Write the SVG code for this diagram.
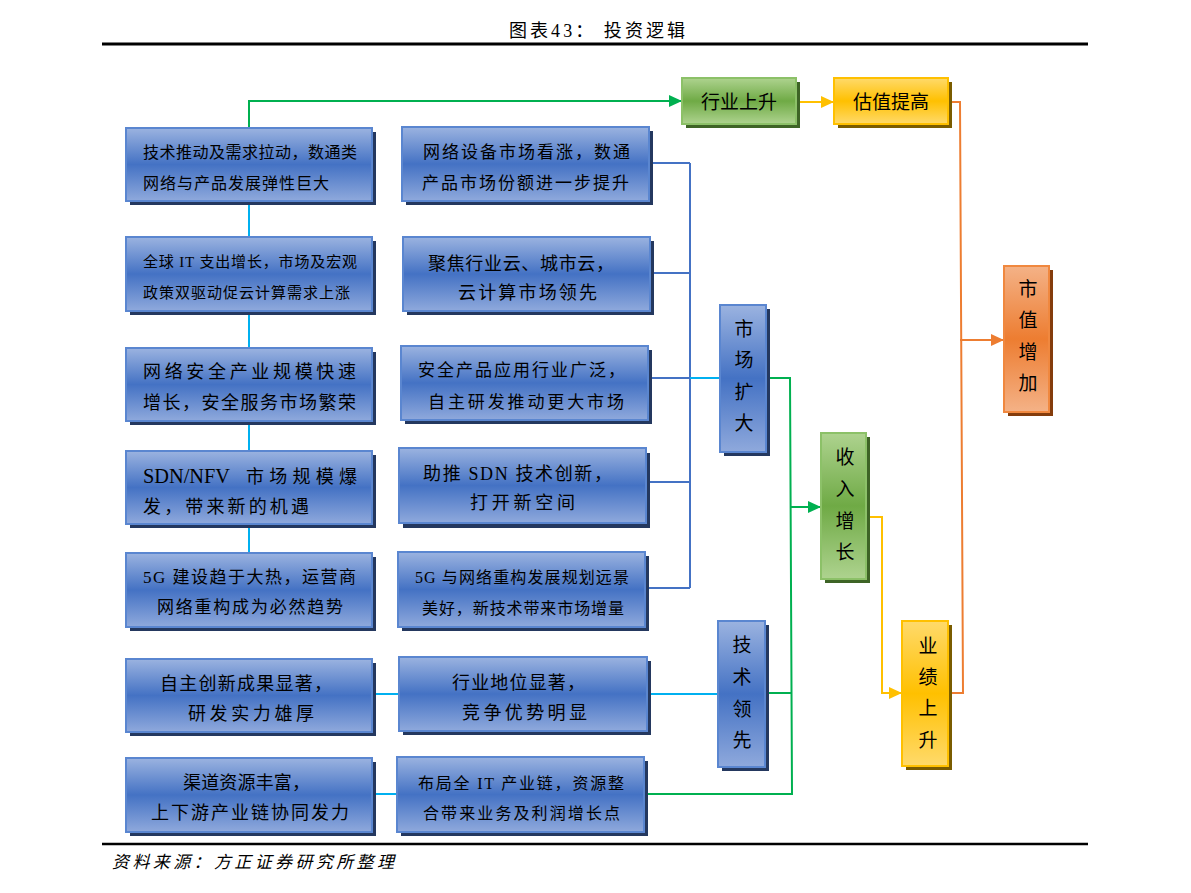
<svg xmlns="http://www.w3.org/2000/svg" width="1191" height="893" viewBox="0 0 1191 893">
<defs>
<linearGradient id="gB" x1="0" y1="0" x2="0" y2="1"><stop offset="0" stop-color="#9BB3E0"/><stop offset="0.5" stop-color="#4472C4"/><stop offset="1" stop-color="#8FA9DC"/></linearGradient>
<linearGradient id="gG" x1="0" y1="0" x2="0" y2="1"><stop offset="0" stop-color="#AED38F"/><stop offset="0.5" stop-color="#6FAA45"/><stop offset="1" stop-color="#AED38F"/></linearGradient>
<linearGradient id="gY" x1="0" y1="0" x2="0" y2="1"><stop offset="0" stop-color="#FFDA6B"/><stop offset="0.5" stop-color="#FFC000"/><stop offset="1" stop-color="#FFDA6B"/></linearGradient>
<linearGradient id="gO" x1="0" y1="0" x2="0" y2="1"><stop offset="0" stop-color="#F4B287"/><stop offset="0.5" stop-color="#ED7D31"/><stop offset="1" stop-color="#F4B287"/></linearGradient>
<marker id="aG" markerUnits="userSpaceOnUse" markerWidth="14" markerHeight="14" refX="13" refY="7" orient="auto"><path d="M0,1 L13,7 L0,13 Z" fill="#00B050"/></marker>
<marker id="aY" markerUnits="userSpaceOnUse" markerWidth="14" markerHeight="14" refX="13" refY="7" orient="auto"><path d="M0,1 L13,7 L0,13 Z" fill="#FFC000"/></marker>
<marker id="aO" markerUnits="userSpaceOnUse" markerWidth="14" markerHeight="14" refX="13" refY="7" orient="auto"><path d="M0,1 L13,7 L0,13 Z" fill="#ED7D31"/></marker>
</defs>
<style>
.t{font-family:"Liberation Serif","Noto Sans CJK SC",serif;font-size:16px;fill:#000}
.v{font-family:"Liberation Serif","Noto Sans CJK SC",serif;font-size:19px;fill:#000;text-anchor:middle}
.bx{fill:url(#gB);stroke:#5A86D0;stroke-width:2}
.sb{fill:#24385F}
.gx{fill:url(#gG);stroke:#8CC168;stroke-width:2}
.sg{fill:#3E6426}
.yx{fill:url(#gY);stroke:#FFC000;stroke-width:2}
.sy{fill:#7A5C00}
.ox{fill:url(#gO);stroke:#F0883F;stroke-width:2}
.so{fill:#843C0C}
.c{fill:none;stroke-width:2}
.cy{stroke:#00B0F0}.bl{stroke:#4472C4}.gr{stroke:#00B050}.ye{stroke:#FFC000}.or{stroke:#ED7D31}
</style>
<rect width="1191" height="893" fill="#fff"/>
<g id="header">
<text x="509" y="37" style="font-family:'Liberation Serif','Noto Sans CJK SC',serif;font-size:18px" textLength="176" lengthAdjust="spacing">图表43：  投资逻辑</text>
<line x1="102" y1="44" x2="1088" y2="44" stroke="#000" stroke-width="3"/>
</g>
<g id="connectors">
<path class="c gr" d="M249,128 V101 H682" marker-end="url(#aG)"/>
<path class="c cy" d="M249,201 V237 M249,311 V348 M249,421 V450 M249,524 V552"/>
<path class="c bl" d="M649,163 H690 M650,273 H690 M648,378 H690 M646,482 H690 M645,588 H690 M690,163 V588"/>
<path class="c cy" d="M690,378 H720"/>
<path class="c cy" d="M372,694 H399 M647,694 H718 M372,794 H397"/>
<path class="c gr" d="M766,378 H790 L792,794 H644 M765,693 H792"/>
<path class="c gr" d="M791,507 H821" marker-end="url(#aG)"/>
<path class="c ye" d="M796,102 H834" marker-end="url(#aY)"/>
<path class="c ye" d="M866,517 H882 V693 H902" marker-end="url(#aY)"/>
<path class="c or" d="M948,102 H960 L963,693 H948"/>
<path class="c or" d="M960,340 H1004" marker-end="url(#aO)"/>
</g>
<g id="L1"><rect class="sb" x="130" y="132" width="246" height="73"/><rect class="bx" x="126" y="128" width="246" height="73"/>
<text class="t" x="143" y="158" textLength="214" lengthAdjust="spacing">技术推动及需求拉动，数通类</text>
<text class="t" x="143" y="189" textLength="186" lengthAdjust="spacing">网络与产品发展弹性巨大</text></g>
<g id="L2"><rect class="sb" x="130" y="241" width="246" height="74"/><rect class="bx" x="126" y="237" width="246" height="74"/>
<text class="t" x="143" y="267" style="font-size:15px" textLength="214" lengthAdjust="spacing">全球 IT 支出增长，市场及宏观</text>
<text class="t" x="143" y="298" style="font-size:15px" textLength="207" lengthAdjust="spacing">政策双驱动促云计算需求上涨</text></g>
<g id="L3"><rect class="sb" x="130" y="352" width="246" height="73"/><rect class="bx" x="126" y="348" width="246" height="73"/>
<text class="t" x="143" y="378" style="font-size:18px" textLength="213" lengthAdjust="spacing">网络安全产业规模快速</text>
<text class="t" x="143" y="409" style="font-size:18px" textLength="213" lengthAdjust="spacing">增长，安全服务市场繁荣</text></g>
<g id="L4"><rect class="sb" x="130" y="455" width="246" height="73"/><rect class="bx" x="126" y="451" width="246" height="73"/>
<text class="t" x="143" y="483" style="font-size:20px" textLength="87" lengthAdjust="spacingAndGlyphs">SDN/NFV</text>
<text class="t" x="246" y="483" style="font-size:18px" textLength="111" lengthAdjust="spacing">市场规模爆</text>
<text class="t" x="143" y="513" style="font-size:18px" textLength="166" lengthAdjust="spacing">发，带来新的机遇</text></g>
<g id="L5"><rect class="sb" x="130" y="557" width="246" height="74"/><rect class="bx" x="126" y="553" width="246" height="74"/>
<text class="t" x="143" y="583" style="font-size:17px" textLength="213" lengthAdjust="spacing">5G 建设趋于大热，运营商</text>
<text class="t" x="157" y="613" style="font-size:17px" textLength="186" lengthAdjust="spacing">网络重构成为必然趋势</text></g>
<g id="L6"><rect class="sb" x="130" y="663" width="246" height="73"/><rect class="bx" x="126" y="659" width="246" height="73"/>
<text class="t" x="160" y="690" style="font-size:18px" textLength="172" lengthAdjust="spacing">自主创新成果显著，</text>
<text class="t" x="188" y="720" style="font-size:18px" textLength="126" lengthAdjust="spacing">研发实力雄厚</text></g>
<g id="L7"><rect class="sb" x="130" y="762" width="246" height="74"/><rect class="bx" x="126" y="758" width="246" height="74"/>
<text class="t" x="183" y="789" style="font-size:18px" textLength="127" lengthAdjust="spacing">渠道资源丰富，</text>
<text class="t" x="151" y="819" style="font-size:18px" textLength="198" lengthAdjust="spacing">上下游产业链协同发力</text></g>
<g id="M1"><rect class="sb" x="406" y="131" width="247" height="74"/><rect class="bx" x="402" y="127" width="247" height="74"/>
<text class="t" x="423" y="158" style="font-size:17px" textLength="207" lengthAdjust="spacing">网络设备市场看涨，数通</text>
<text class="t" x="422" y="189" style="font-size:17px" textLength="207" lengthAdjust="spacing">产品市场份额进一步提升</text></g>
<g id="M2"><rect class="sb" x="407" y="241" width="247" height="74"/><rect class="bx" x="403" y="237" width="247" height="74"/>
<text class="t" x="428" y="270" style="font-size:18px" textLength="186" lengthAdjust="spacing">聚焦行业云、城市云，</text>
<text class="t" x="458" y="299" style="font-size:18px" textLength="139" lengthAdjust="spacing">云计算市场领先</text></g>
<g id="M3"><rect class="sb" x="405" y="350" width="247" height="74"/><rect class="bx" x="401" y="346" width="247" height="74"/>
<text class="t" x="418" y="376" style="font-size:17px" textLength="207" lengthAdjust="spacing">安全产品应用行业广泛，</text>
<text class="t" x="428" y="408" style="font-size:17px" textLength="196" lengthAdjust="spacing">自主研发推动更大市场</text></g>
<g id="M4"><rect class="sb" x="403" y="453" width="247" height="75"/><rect class="bx" x="399" y="448" width="247" height="75"/>
<text class="t" x="423" y="480" style="font-size:18px" textLength="189" lengthAdjust="spacing">助推 SDN 技术创新，</text>
<text class="t" x="470" y="509" style="font-size:18px" textLength="105" lengthAdjust="spacing">打开新空间</text></g>
<g id="M5"><rect class="sb" x="402" y="556" width="247" height="75"/><rect class="bx" x="398" y="552" width="247" height="75"/>
<text class="t" x="415" y="583" style="font-size:16px" textLength="214" lengthAdjust="spacing">5G 与网络重构发展规划远景</text>
<text class="t" x="422" y="614" style="font-size:16px" textLength="202" lengthAdjust="spacing">美好，新技术带来市场增量</text></g>
<g id="M6"><rect class="sb" x="403" y="661" width="248" height="74"/><rect class="bx" x="399" y="657" width="248" height="74"/>
<text class="t" x="452" y="689" style="font-size:18px" textLength="133" lengthAdjust="spacing">行业地位显著，</text>
<text class="t" x="462" y="719" style="font-size:18px" textLength="125" lengthAdjust="spacing">竞争优势明显</text></g>
<g id="M7"><rect class="sb" x="401" y="761" width="247" height="75"/><rect class="bx" x="397" y="757" width="247" height="75"/>
<text class="t" x="418" y="789" style="font-size:16px" textLength="206" lengthAdjust="spacing">布局全 IT 产业链，资源整</text>
<text class="t" x="423" y="819" style="font-size:16px" textLength="197" lengthAdjust="spacing">合带来业务及利润增长点</text></g>
<g id="marketExpand"><rect class="sb" x="724" y="309" width="46" height="147"/><rect class="bx" x="720" y="305" width="46" height="147"/>
<text class="v" x="744" y="336">市</text><text class="v" x="744" y="367">场</text><text class="v" x="744" y="399">扩</text><text class="v" x="744" y="430">大</text></g>
<g id="techLead"><rect class="sb" x="722" y="625" width="47" height="146"/><rect class="bx" x="718" y="621" width="47" height="146"/>
<text class="v" x="742" y="652">技</text><text class="v" x="742" y="684">术</text><text class="v" x="742" y="716">领</text><text class="v" x="742" y="747">先</text></g>
<g id="industryUp"><rect class="sg" x="686" y="82" width="114" height="46"/><rect class="gx" x="682" y="78" width="114" height="46"/>
<text class="t" x="739" y="109" style="font-size:19px;text-anchor:middle">行业上升</text></g>
<g id="valuationUp"><rect class="sy" x="838" y="82" width="114" height="46"/><rect class="yx" x="834" y="78" width="114" height="46"/>
<text class="t" x="891" y="109" style="font-size:19px;text-anchor:middle">估值提高</text></g>
<g id="revenueUp"><rect class="sg" x="825" y="437" width="45" height="146"/><rect class="gx" x="821" y="433" width="45" height="146"/>
<text class="v" x="845" y="464">收</text><text class="v" x="845" y="496">入</text><text class="v" x="845" y="528">增</text><text class="v" x="845" y="559">长</text></g>
<g id="earningsUp"><rect class="sy" x="906" y="625" width="46" height="145"/><rect class="yx" x="902" y="621" width="46" height="145"/>
<text class="v" x="928" y="653">业</text><text class="v" x="928" y="684">绩</text><text class="v" x="928" y="715">上</text><text class="v" x="928" y="747">升</text></g>
<g id="marketCapUp"><rect class="so" x="1008" y="270" width="45" height="146"/><rect class="ox" x="1004" y="266" width="45" height="146"/>
<text class="v" x="1028" y="296">市</text><text class="v" x="1028" y="327">值</text><text class="v" x="1028" y="359">增</text><text class="v" x="1028" y="390">加</text></g>
<g id="footer">
<line x1="102" y1="844" x2="1088" y2="844" stroke="#000" stroke-width="2.5"/>
<text x="112" y="868" style="font-family:'Liberation Serif','Noto Sans CJK SC',serif;font-size:17px;font-style:italic" textLength="282" lengthAdjust="spacing">资料来源：方正证券研究所整理</text>
</g>
</svg>
